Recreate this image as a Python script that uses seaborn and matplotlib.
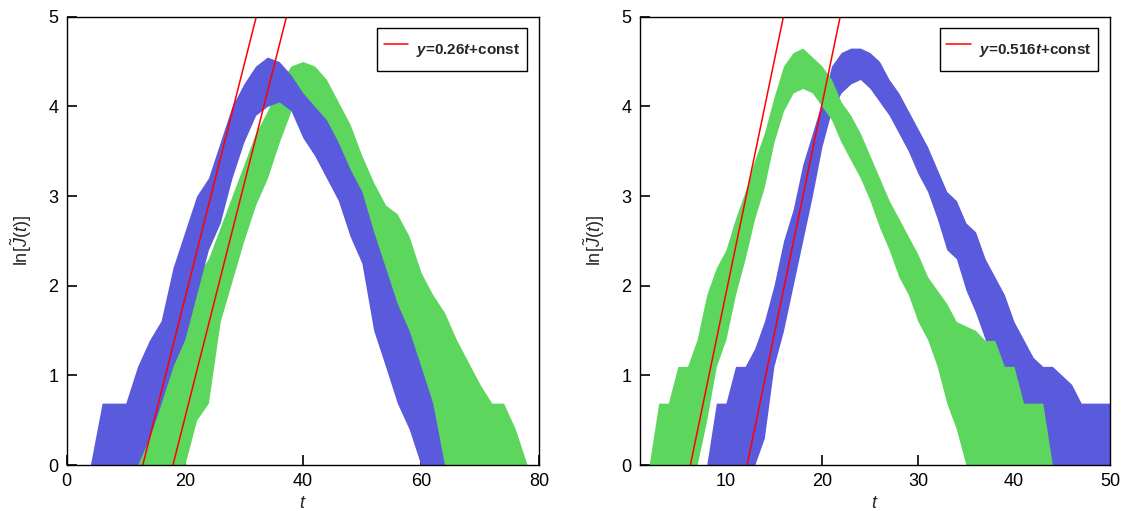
import numpy as np
import pandas as pd
import matplotlib
matplotlib.use("Agg")
import matplotlib.pyplot as plt
import seaborn as sns

# ---------------- data ----------------
# Left panel: sampling times and the lower / upper extent of ln J(t) per series
T_LEFT = [0, 2, 4, 6, 8, 10, 12, 14, 16, 18, 20, 22, 24, 26, 28, 30, 32, 34, 36, 38,
          40, 42, 44, 46, 48, 50, 52, 54, 56, 58, 60, 62, 64, 66, 68, 70, 72, 74, 76, 78, 80]
LEFT_BLUE_LO = [0, 0, 0, 0, 0, 0, 0, 0.3, 0.69, 1.1, 1.4, 1.9, 2.4, 2.7, 3.2, 3.6, 3.9, 4.0, 4.05, 3.95,
                3.65, 3.45, 3.2, 2.95, 2.55, 2.25, 1.5, 1.1, 0.69, 0.4, 0, 0, 0, 0, 0, 0, 0, 0, 0, 0, 0]
LEFT_BLUE_HI = [0, 0, 0, 0.69, 0.69, 0.69, 1.1, 1.39, 1.61, 2.2, 2.6, 3.0, 3.2, 3.6, 4.0, 4.25, 4.45, 4.55, 4.5, 4.35,
                4.15, 4.0, 3.85, 3.6, 3.3, 3.05, 2.6, 2.2, 1.8, 1.5, 1.1, 0.69, 0, 0, 0, 0, 0, 0, 0, 0, 0]
LEFT_GREEN_LO = [0, 0, 0, 0, 0, 0, 0, 0, 0, 0, 0, 0.5, 0.69, 1.6, 2.05, 2.5, 2.9, 3.2, 3.6, 3.95,
                 4.1, 4.0, 3.75, 3.45, 3.15, 2.75, 2.4, 2.0, 1.0, 0.5, 0, 0, 0, 0, 0, 0, 0, 0, 0, 0, 0]
LEFT_GREEN_HI = [0, 0, 0, 0, 0, 0, 0.69, 0.69, 1.1, 1.5, 1.9, 2.1, 2.3, 2.65, 3.0, 3.35, 3.7, 3.95, 4.25, 4.45,
                 4.5, 4.45, 4.3, 4.05, 3.8, 3.45, 3.15, 2.9, 2.8, 2.55, 2.15, 1.9, 1.7, 1.4, 1.15, 0.9, 0.69, 0.69, 0.4, 0, 0]

# Right panel
T_RIGHT = [1, 2, 3, 4, 5, 6, 7, 8, 9, 10, 11, 12, 13, 14, 15, 16, 17, 18, 19, 20, 21, 22, 23, 24, 25,
           26, 27, 28, 29, 30, 31, 32, 33, 34, 35, 36, 37, 38, 39, 40, 41, 42, 43, 44, 45, 46, 47, 48, 49, 50]
RIGHT_BLUE_LO = [0, 0, 0, 0, 0, 0, 0, 0, 0, 0, 0, 0, 0, 0.3, 1.1, 1.5, 2.0, 2.5, 3.0, 3.55, 3.95, 4.15, 4.25, 4.3, 4.2,
                 4.05, 3.9, 3.7, 3.5, 3.25, 3.05, 2.75, 2.4, 2.3, 1.95, 1.7, 1.4, 1.1, 0.69, 0.5, 0.3, 0, 0, 0, 0, 0, 0, 0, 0, 0]
RIGHT_BLUE_HI = [0, 0, 0, 0, 0, 0, 0, 0, 0.69, 0.69, 1.1, 1.1, 1.3, 1.6, 2.0, 2.5, 2.85, 3.35, 3.7, 4.05, 4.45, 4.6, 4.65, 4.65, 4.6,
                 4.5, 4.3, 4.15, 3.95, 3.75, 3.55, 3.3, 3.05, 2.95, 2.7, 2.6, 2.3, 2.1, 1.9, 1.6, 1.4, 1.2, 1.1, 1.1, 1.0, 0.9, 0.69, 0.69, 0.69, 0.69]
RIGHT_GREEN_LO = [0, 0, 0, 0, 0, 0, 0, 0.5, 1.1, 1.4, 1.9, 2.3, 2.75, 3.1, 3.6, 3.95, 4.15, 4.2, 4.15, 4.0, 3.85, 3.6, 3.4, 3.2, 2.95,
                  2.65, 2.4, 2.1, 1.9, 1.6, 1.4, 1.1, 0.69, 0.4, 0, 0, 0, 0, 0, 0, 0, 0, 0, 0, 0, 0, 0, 0, 0, 0]
RIGHT_GREEN_HI = [0, 0, 0.69, 0.69, 1.1, 1.1, 1.4, 1.9, 2.2, 2.4, 2.75, 3.05, 3.4, 3.7, 4.1, 4.45, 4.6, 4.65, 4.55, 4.45, 4.3, 4.05, 3.9, 3.7, 3.45,
                  3.2, 2.95, 2.75, 2.55, 2.35, 2.1, 1.95, 1.8, 1.6, 1.55, 1.5, 1.39, 1.39, 1.1, 1.1, 0.69, 0.69, 0.69, 0, 0, 0, 0, 0, 0, 0]

# Exponential-growth fits: slope and the two intercepts per panel
LEFT_SLOPE = 0.26
LEFT_CONSTS = [-3.35, -4.68]
RIGHT_SLOPE = 0.516
RIGHT_CONSTS = [-3.25, -6.3]

LEFT_XTICKS = [0, 20, 40, 60, 80]
RIGHT_XTICKS = [10, 20, 30, 40, 50]
YTICKS = [0, 1, 2, 3, 4, 5]

BLUE = "#5a5adc"
GREEN = "#5cd65c"
RED = "#ff0000"

# ---------------- style ----------------
sns.set_theme(style="ticks")
plt.rcParams["font.family"] = ["Liberation Sans", "DejaVu Sans"]
plt.rcParams["mathtext.fontset"] = "custom"
plt.rcParams["mathtext.rm"] = "Liberation Sans"
plt.rcParams["mathtext.it"] = "Liberation Sans:italic"
plt.rcParams["mathtext.bf"] = "Liberation Sans:bold"
plt.rcParams["mathtext.bfit"] = "Liberation Sans:bold:italic"


def draw_band(ax, t, lo, hi, color):
    """Shade the full spread of ln J(t) between its lower and upper extent."""
    df = pd.DataFrame({"t": list(t) + list(t), "lnJ": list(lo) + list(hi)})
    sns.lineplot(data=df, x="t", y="lnJ", errorbar=("pi", 100), color=color,
                 linewidth=0, err_kws={"alpha": 1, "linewidth": 0},
                 legend=False, ax=ax)


def draw_fits(ax, slope, consts, xlim):
    handle = None
    tt = np.array(xlim, dtype=float)
    for i, c in enumerate(consts):
        sns.lineplot(x=tt, y=slope * tt + c, color=RED, linewidth=1.1, ax=ax,
                     legend=False)
        if i == 0:
            handle = ax.lines[-1]
    return handle


def style_axes(ax, xlim, xticks, legend_handle, legend_label, bbox):
    ax.set_xlim(*xlim)
    ax.set_ylim(0, 5)
    ax.set_xticks(xticks)
    ax.set_yticks(YTICKS)
    ax.tick_params(axis="both", which="major", direction="in", length=7,
                   width=1.2, color="black", labelcolor="black", labelsize=13,
                   top=False, right=False, pad=6)
    for s in ax.spines.values():
        s.set_visible(True)
        s.set_color("black")
        s.set_linewidth(1.0)
    ax.set_xlabel("$t$", fontsize=13, labelpad=3)
    ax.set_ylabel(r"ln[$\tilde{J}(t)$]", fontsize=13, labelpad=10)
    leg = ax.legend([legend_handle], [legend_label], loc="upper right",
                    bbox_to_anchor=bbox, borderaxespad=0, frameon=True,
                    fancybox=False, prop={"weight": "bold", "size": 11},
                    handlelength=1.6, handleheight=2.6, handletextpad=0.5,
                    borderpad=0.45)
    fr = leg.get_frame()
    fr.set_edgecolor("black")
    fr.set_linewidth(1.0)
    fr.set_alpha(1)
    ax.grid(False)


fig = plt.figure(figsize=(11.22, 5.11), dpi=100)
ax1 = fig.add_axes([66.7 / 1122, 46 / 511, 472.3 / 1122, 448.3 / 511])
ax2 = fig.add_axes([639.5 / 1122, 46 / 511, 470.5 / 1122, 448.3 / 511])

# left panel: green drawn first, blue on top
draw_band(ax1, T_LEFT, LEFT_GREEN_LO, LEFT_GREEN_HI, GREEN)
draw_band(ax1, T_LEFT, LEFT_BLUE_LO, LEFT_BLUE_HI, BLUE)
h1 = draw_fits(ax1, LEFT_SLOPE, LEFT_CONSTS, (0, 80))
style_axes(ax1, (0, 80), LEFT_XTICKS, h1,
           r"$\mathbfit{y}$=%g$\mathbfit{t}$+const" % LEFT_SLOPE,
           (1 - 12 / 472.3, 1 - 11 / 448.3))

# right panel: blue drawn first, green on top
draw_band(ax2, T_RIGHT, RIGHT_BLUE_LO, RIGHT_BLUE_HI, BLUE)
draw_band(ax2, T_RIGHT, RIGHT_GREEN_LO, RIGHT_GREEN_HI, GREEN)
h2 = draw_fits(ax2, RIGHT_SLOPE, RIGHT_CONSTS, (1, 50))
style_axes(ax2, (1, 50), RIGHT_XTICKS, h2,
           r"$\mathbfit{y}$=%g$\mathbfit{t}$+const" % RIGHT_SLOPE,
           (1 - 12 / 470.5, 1 - 11 / 448.3))

fig.savefig("out.png", dpi=100, facecolor="white")
